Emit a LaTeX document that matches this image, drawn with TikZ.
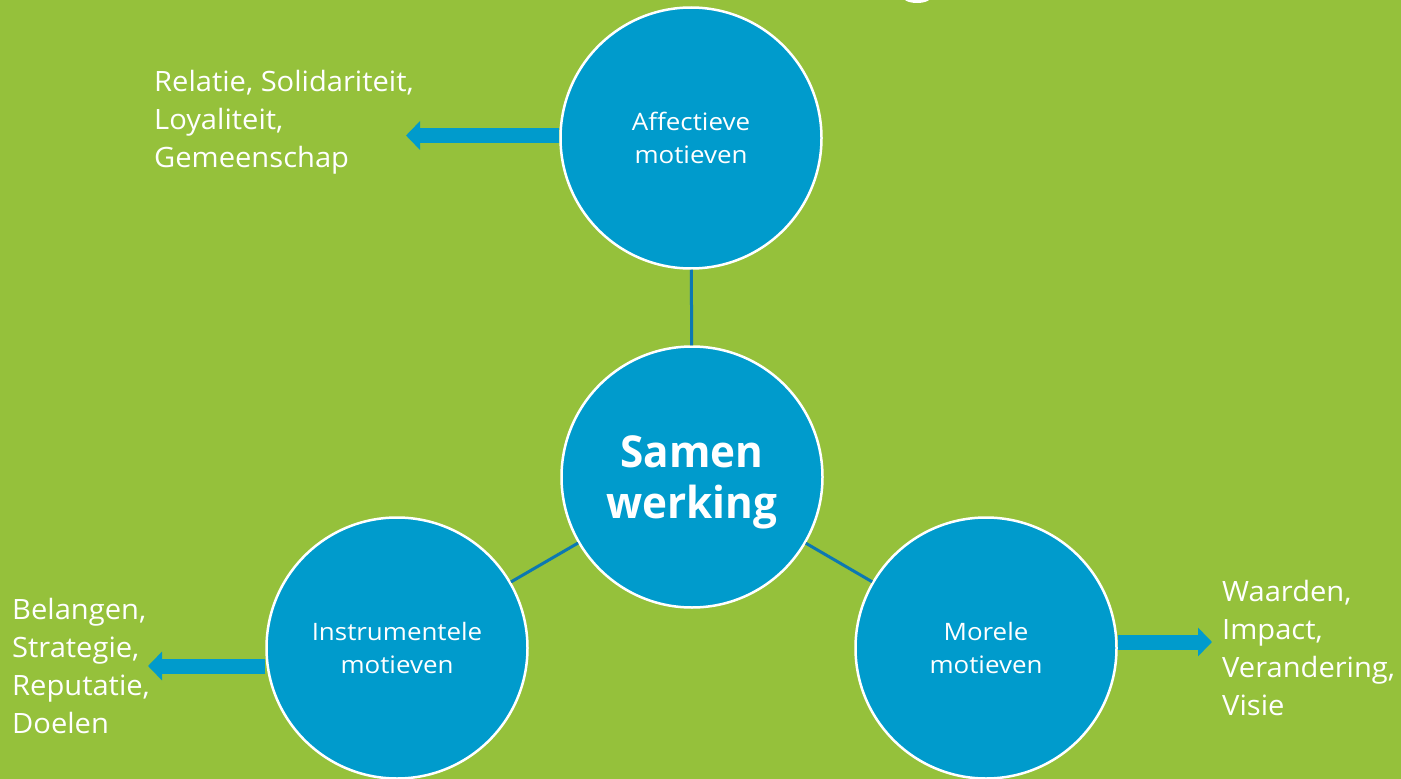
\documentclass[tikz,border=0pt]{standalone}
\usepackage{fontspec}
\setmainfont{Open Sans}
\newfontfamily\circfont{Open Sans}[FakeStretch=1.08]
\newfontfamily\lblfont{Open Sans}[FakeStretch=1.04]
\newfontfamily\bigfont{Open Sans}[FakeStretch=0.96]
\usetikzlibrary{arrows.meta}
\definecolor{bggreen}{RGB}{149,193,59}
\definecolor{cblue}{RGB}{0,155,204}
\definecolor{lblue}{RGB}{12,120,178}
\tikzset{
  motive/.style={circle, fill=cblue, draw=white, line width=2.5pt, minimum size=261pt, inner sep=0pt, text=white, align=center, font=\circfont\fontsize{24}{33}\selectfont},
  link/.style={draw=lblue, line width=3pt},
  fatarrow/.style={draw=cblue, line width=15pt, -{Triangle[length=14pt,width=28pt]}},
  lbl/.style={text=white, align=left, anchor=west, inner sep=0pt, font=\lblfont\fontsize{28}{38}\selectfont}
}
\begin{document}
\begin{tikzpicture}[x=1pt,y=-1pt]
\useasboundingbox (0,0) rectangle (1401,779);
\fill[bggreen] (0,0) rectangle (1401,779);
\begin{scope}
\clip (0,0) rectangle (1401,779);
\fill[white] (917,-4) ellipse [x radius=15, y radius=7];
\node[motive] (aff) at (691,138) {Affectieve\\motieven};
\node[motive, text depth=0pt, font=\bigfont\bfseries\fontsize{44}{51}\selectfont] (sam) at (692,477) {Samen\\werking};
\node[motive] (ins) at (397,648) {Instrumentele\\motieven};
\node[motive] (mor) at (986,648) {Morele\\motieven};
\end{scope}
\draw[link] (aff) -- (sam);
\draw[link] (sam) -- (ins);
\draw[link] (sam) -- (mor);
\coordinate (t1) at (406,135.5);
\coordinate (t2) at (148,666);
\coordinate (t3) at (1212,642);
\draw[fatarrow] (aff.west |- t1) -- (t1);
\draw[fatarrow] (ins.west |- t2) -- (t2);
\draw[fatarrow] (mor.east |- t3) -- (t3);
\node[lbl] (l1) at (154,122.5) {Relatie, Solidariteit,\\Loyaliteit,\\Gemeenschap};
\node[lbl] (l2) at (12,666) {Belangen,\\Strategie,\\Reputatie,\\Doelen};
\node[lbl] (l3) at (1222,648) {Waarden,\\Impact,\\Verandering,\\Visie};
\end{tikzpicture}
\end{document}
